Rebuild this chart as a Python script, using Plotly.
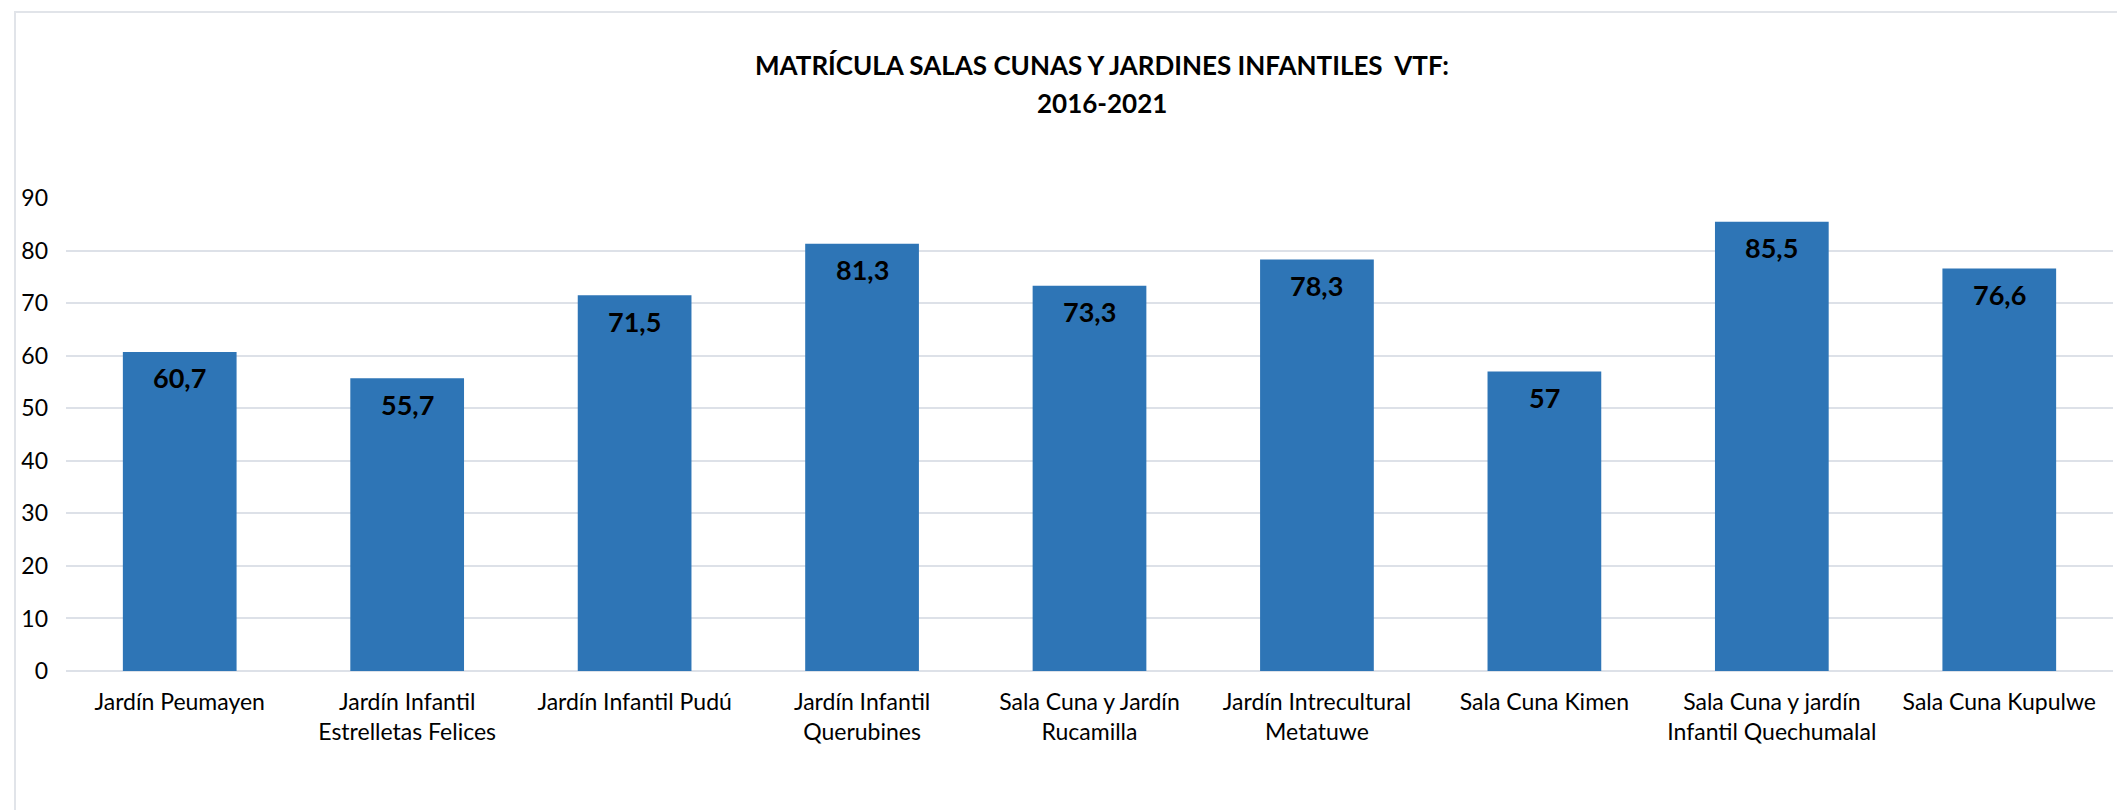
import plotly.graph_objects as go

categories = [
    "Jardín Peumayen",
    "Jardín Infantil<br>Estrelletas Felices",
    "Jardín Infantil Pudú",
    "Jardín Infantil<br>Querubines",
    "Sala Cuna y Jardín<br>Rucamilla",
    "Jardín Intrecultural<br>Metatuwe",
    "Sala Cuna Kimen",
    "Sala Cuna y jardín<br>Infantil Quechumalal",
    "Sala Cuna Kupulwe",
]
values = [60.7, 55.7, 71.5, 81.3, 73.3, 78.3, 57, 85.5, 76.6]
value_labels = ["60,7", "55,7", "71,5", "81,3", "73,3", "78,3", "57", "85,5", "76,6"]
y_ticks = [0, 10, 20, 30, 40, 50, 60, 70, 80, 90]
title_lines = ["MATRÍCULA SALAS CUNAS Y JARDINES INFANTILES  VTF:", "2016-2021"]

OFF = 8  # page body margin
W, H = 2125 - OFF, 810 - OFF
PL, PR, PT, PB = 66, 2113, 198, 671  # target plot box in page pixels
ML, MR, MT, MB = PL - OFF, W + OFF - PR, PT - OFF, H + OFF - PB
PW = PR - PL
PH = PB - PT

FONT = "Lato, 'Open Sans', sans-serif"
BAR = "#2E75B6"
GRID = "#dde1e8"


def px(xp):
    return (xp - PL) / PW


def py(yp):
    return (PB - yp) / PH


fig = go.Figure()
fig.add_trace(go.Bar(
    x=categories, y=values,
    marker=dict(color=BAR, line=dict(width=0)),
    hoverinfo="skip",
))

for c, v, t in zip(categories, values, value_labels):
    fig.add_annotation(
        x=c, y=v, xref="x", yref="y", text=f"<b>{t}</b>",
        showarrow=False, yanchor="middle", yshift=-26,
        font=dict(family=FONT, size=27, color="#000000"),
    )

for line, ypos in zip(title_lines, [65, 103]):
    fig.add_annotation(
        x=px(1102), y=py(ypos), xref="paper", yref="paper",
        text=f"<b>{line}</b>", showarrow=False,
        xanchor="center", yanchor="middle",
        font=dict(family=FONT, size=26, color="#000000"),
    )

# chart frame (left and top edges visible)
fig.add_shape(
    type="rect", xref="paper", yref="paper",
    x0=px(15), x1=1.05, y0=-0.6, y1=py(12),
    line=dict(color="#e1e4e9", width=2), fillcolor="rgba(0,0,0,0)", layer="below",
)

fig.update_layout(
    width=W, height=H,
    margin=dict(l=ML, r=MR, t=MT, b=MB),
    paper_bgcolor="white", plot_bgcolor="white",
    bargap=0.5,
    showlegend=False,
    font=dict(family=FONT, color="#000000"),
    xaxis=dict(
        showgrid=False, showline=False, ticks="",
        tickfont=dict(family=FONT, size=23, color="#000000"),
        ticklabelstandoff=15,
    ),
    yaxis=dict(
        range=[0, 90], tickvals=y_ticks,
        showgrid=True, gridcolor=GRID, gridwidth=1.5,
        zeroline=True, zerolinecolor=GRID, zerolinewidth=1.5,
        showline=False, ticks="",
        tickfont=dict(family=FONT, size=23, color="#000000"),
        ticklabelstandoff=17,
    ),
)

fig.write_html("out.html")
